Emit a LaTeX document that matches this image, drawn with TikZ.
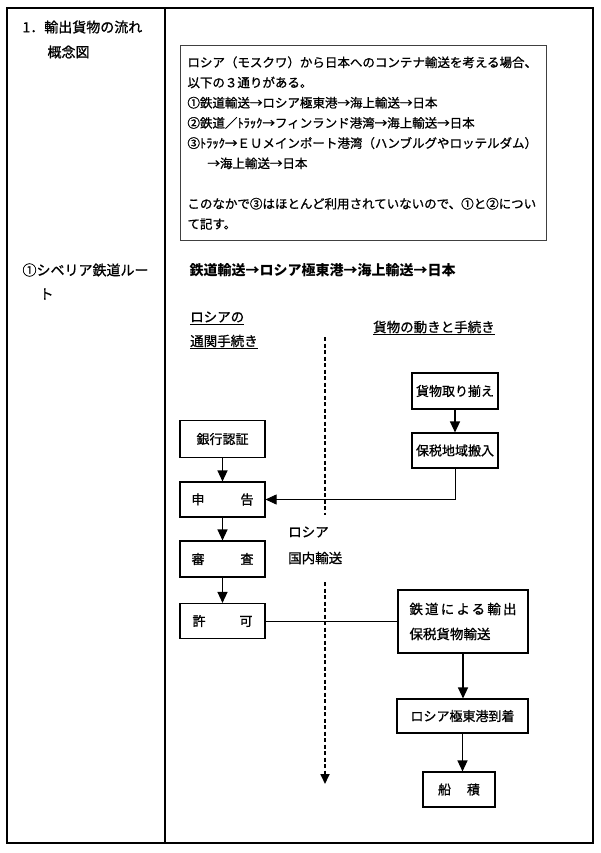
\documentclass[tikz,border=0pt]{standalone}
\usepackage{fontspec}
\setmainfont{Noto Sans CJK JP}[UprightFeatures={FakeBold=1}]
\usetikzlibrary{arrows,arrows.meta,shapes}

\tikzset{
  box/.style={draw, line width=1.1pt, inner sep=2pt, font=\fontsize{13}{15}\selectfont},
  flow/.style={-{Triangle[width=10pt,length=11pt]}, line width=1.3pt},
  dashline/.style={line width=1.7pt, dash pattern=on 4pt off 2.5pt},
  lcol/.style={anchor=west, font=\fontsize{14}{16}\selectfont},
  ulabel/.style={anchor=west, inner sep=1pt, font=\fontsize{13.5}{16}\selectfont}
}

\begin{document}
\begin{tikzpicture}[x=1pt,y=-1pt]
\useasboundingbox (0,0) rectangle (600,853);
\draw[line width=1.5pt] (7,8) rectangle (593,843);
\draw[line width=1.3pt] (165,8) -- (165,843);
\node[lcol] (sec) at (19,27) {1．輸出貨物の流れ};
\node[lcol] (secb) at (44,52) {概念図};
\node[lcol] (route) at (19,270) {①シベリア鉄道ルー};
\node[lcol] (routeb) at (36,294) {ト};
\node[anchor=north west, draw=black!75, line width=0.9pt, text width=352pt, inner xsep=7pt,
  minimum height=195pt, align=left, font=\fontsize{12.5}{20.2}\selectfont] (memo) at (180,45)
  {ロシア（モスクワ）から日本へのコンテナ輸送を考える場合、\\
   以下の３通りがある。\\
   ①鉄道輸送→ロシア極東港→海上輸送→日本\\
   ②鉄道／ﾄﾗｯｸ→フィンランド港湾→海上輸送→日本\\
   ③ﾄﾗｯｸ→ＥＵメインポート港湾（ハンブルグやロッテルダム）\\
   \hspace*{20pt}→海上輸送→日本\\[20.2pt]
   このなかで③はほとんど利用されていないので、①と②につい\\
   て記す。};
\node[anchor=west, font=\fontsize{14}{16}\selectfont\bfseries] (head) at (186,270)
  {鉄道輸送→ロシア極東港→海上輸送→日本};
\node[ulabel] (rus) at (189,318) {\underline{ロシアの}};
\node[ulabel] (tsukan) at (189,342) {\underline{通関手続き}};
\node[ulabel] (ugoki) at (372,328) {\underline{貨物の動きと手続き}};
\node[ulabel] (rus2) at (287,532) {ロシア};
\node[ulabel] (kokunai) at (287,558) {国内輸送};
\coordinate (d1) at (325,337);
\coordinate (d2) at (325,515);
\coordinate (d3) at (325,582);
\coordinate (d4) at (325,784);
\node[box, minimum width=85pt, minimum height=37pt] (gin) at (222.5,439) {銀行認証};
\node[box, minimum width=85pt, minimum height=35pt] (shin) at (222.5,499.5) {\makebox[62pt]{申\hfill 告}};
\node[box, minimum width=85pt, minimum height=36pt] (shinsa) at (222.5,559) {\makebox[62pt]{審\hfill 査}};
\node[box, minimum width=85pt, minimum height=35pt] (kyoka) at (222.5,621) {\makebox[60pt]{許\hfill 可}};
\node[box, minimum width=86pt, minimum height=36pt] (kamotsu) at (455,391) {貨物取り揃え};
\node[box, minimum width=86pt, minimum height=35pt] (hozei) at (455,450.5) {保税地域搬入};
\node[box, minimum width=130pt, minimum height=63pt, align=left, font=\fontsize{13.5}{25}\selectfont] (tetsudo) at (463,621.5)
  {{\addfontfeature{LetterSpace=16}鉄道による輸出}\\保税貨物輸送};
\node[box, minimum width=131pt, minimum height=34pt] (kyokuto) at (462.5,716) {ロシア極東港到着};
\node[box, minimum width=72pt, minimum height=35pt] (funa) at (459,789.5) {\makebox[42pt]{船\hfill 積}};
\draw[dashline] (d1) -- (d2);
\draw[dashline, -{Triangle[width=9pt,length=10pt]}] (d3) -- (d4);
\draw[flow] (gin) -- (shin);
\draw[flow] (shin) -- (shinsa);
\draw[flow] (shinsa) -- (kyoka);
\draw[flow] (kamotsu) -- (hozei);
\draw[flow, line width=0.8pt] (hozei.south) |- (shin.east);
\draw[line width=0.8pt] (kyoka.east) -- (kyoka.east -| tetsudo.west);
\draw[flow] (tetsudo.south) -- (tetsudo.south |- kyokuto.north);
\draw[flow] (kyokuto.south) -- (kyokuto.south |- funa.north);
\end{tikzpicture}
\end{document}
